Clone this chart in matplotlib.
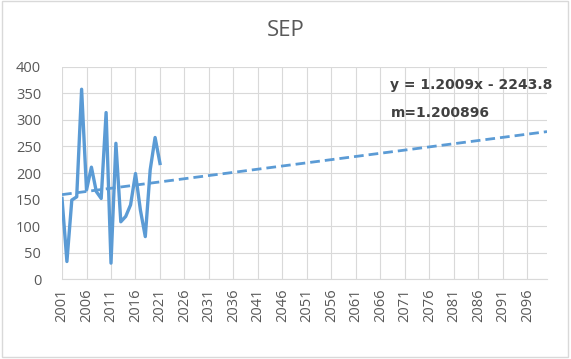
import matplotlib.pyplot as plt
import numpy as np

plt.rcParams['font.family'] = ['Open Sans', 'DejaVu Sans']

years = list(range(2001, 2022))
values = [152, 33, 149, 155, 358, 168, 211, 165, 152, 314, 30, 256,
          108, 118, 140, 199, 130, 80, 206, 267, 218]
slope = 1.2009
intercept = -2243.8
trend_years = [2001, 2100]

fig = plt.figure(figsize=(5.71, 3.59), dpi=100)
ax = fig.add_axes([0.1086, 0.2228, 0.8494, 0.5906])

ax.plot(years, values, color='#5B9BD5', lw=2.4, zorder=3)
ty = np.array(trend_years)
ax.plot(ty, slope * ty + intercept, color='#5B9BD5', lw=2, ls=(0, (3.5, 1.8)), zorder=3)

ax.set_xlim(2001, 2100)
ax.set_ylim(0, 400)
ax.set_xticks(range(2001, 2100, 5))
ax.set_xticklabels([str(y) for y in range(2001, 2100, 5)], rotation=90)
ax.set_yticks(range(0, 401, 50))
ax.grid(True, color='#D9D9D9', lw=0.8, zorder=0)
for s in ['top', 'right', 'left']:
    ax.spines[s].set_visible(False)
ax.spines['bottom'].set_color('#D9D9D9')
ax.tick_params(length=0, labelsize=10.5, labelcolor='#595959')
ax.tick_params(axis='y', pad=15)
ax.tick_params(axis='x', pad=7)

fig.text(0.5, 0.914, 'SEP', ha='center', va='center', fontsize=16, color='#595959')
fig.text(0.683, 0.763, 'y = 1.2009x - 2243.8', fontsize=10, fontweight='bold',
         color='#404040', va='center', family='DejaVu Sans')
fig.text(0.685, 0.685, 'm=1.200896', fontsize=10, fontweight='bold',
         color='#404040', va='center', family='DejaVu Sans')

fig.patches.append(plt.Rectangle((0.004, 0.006), 0.991, 0.99, transform=fig.transFigure,
                                 fill=False, edgecolor='#D9D9D9', lw=1))

fig.savefig('out.png', dpi=100)
